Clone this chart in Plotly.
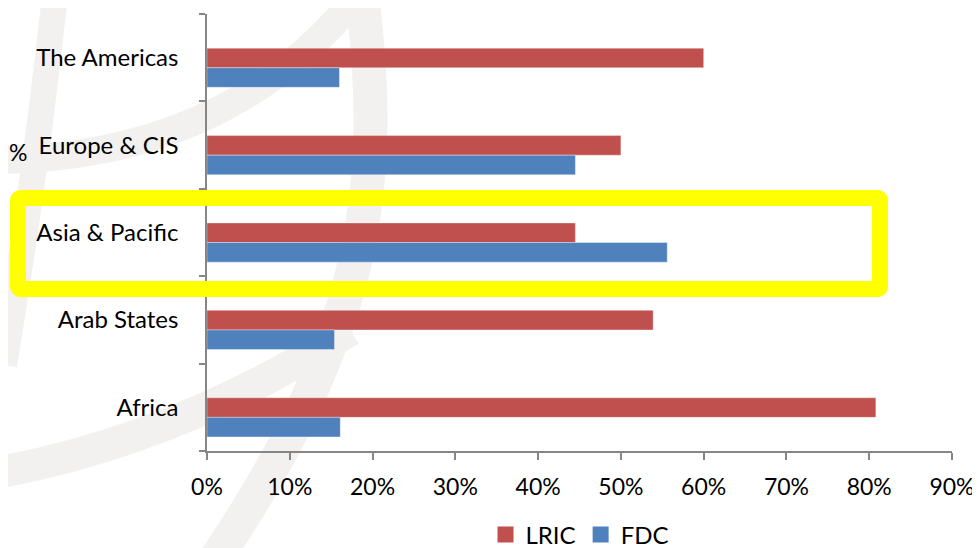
import plotly.graph_objects as go

# ---- data ----
categories = ["Africa", "Arab States", "Asia & Pacific", "Europe & CIS", "The Americas"]
lric = [0.808, 0.539, 0.445, 0.500, 0.600]
fdc = [0.161, 0.154, 0.556, 0.445, 0.160]
series_names = ["LRIC", "FDC"]
x_tick_vals = [0, 0.1, 0.2, 0.3, 0.4, 0.5, 0.6, 0.7, 0.8, 0.9]

RED = "#C0504D"
BLUE = "#4F81BD"
FONT = "Lato"

# page body has an 8px margin: figure pixels = reference pixels - 8
OFF = 8
W, H = 980 - OFF, 548 - OFF
L, R, T, B = 207, 952, 14, 451   # plot area in reference pixels


def X(px):
    return (px - L) / (R - L)


def Y(py):
    return (B - py) / (B - T)


def P(px, py):
    return f"{X(px):.5f},{Y(py):.5f}"


fig = go.Figure()

fig.add_trace(go.Bar(
    y=categories, x=lric, orientation="h", name=series_names[0],
    marker=dict(color=RED, line=dict(color="rgba(255,255,255,0.35)", width=1)),
    width=0.224, offset=-0.115, showlegend=False,
))
fig.add_trace(go.Bar(
    y=categories, x=fdc, orientation="h", name=series_names[1],
    marker=dict(color=BLUE, line=dict(color="rgba(255,255,255,0.35)", width=1)),
    width=0.224, offset=-0.339, showlegend=False,
))
# legend proxies (larger square swatches)
for nm, col in zip(series_names, [RED, BLUE]):
    fig.add_trace(go.Scatter(
        x=[None], y=[None], mode="markers", name=nm,
        marker=dict(symbol="square", size=16, color=col),
    ))

# ---- background watermark strokes ----
WM = "#f3f1f0"
shapes = []


def band(d, w):
    shapes.append(dict(type="path", xref="paper", yref="paper", path=d,
                       line=dict(color=WM, width=w), layer="below"))


band(f"M{P(55,-5)} Q{P(35,180)} {P(4,365)}", 26)
band(f"M{P(-10,160)} Q{P(220,160)} {P(350,5)}", 28)
band(f"M{P(362,-5)} C{P(385,180)} {P(370,330)} {P(215,560)}", 34)
band(f"M{P(-10,474)} Q{P(180,440)} {P(350,330)}", 32)

# ---- yellow highlight box (rounded corners) ----
x0, x1, y0, y1, r = 18, 880, 198, 289, 3
yellow = (f"M{P(x0+r,y0)} L{P(x1-r,y0)} Q{P(x1,y0)} {P(x1,y0+r)} "
          f"L{P(x1,y1-r)} Q{P(x1,y1)} {P(x1-r,y1)} "
          f"L{P(x0+r,y1)} Q{P(x0,y1)} {P(x0,y1-r)} "
          f"L{P(x0,y0+r)} Q{P(x0,y0)} {P(x0+r,y0)} Z")
shapes.append(dict(type="path", xref="paper", yref="paper", path=yellow,
                   line=dict(color="#FFFF00", width=16), layer="above"))

fig.update_layout(
    width=W, height=H,
    margin=dict(l=L - OFF, r=W - (R - OFF), t=T - OFF, b=H - (B - OFF),
                pad=0, autoexpand=False),
    paper_bgcolor="white", plot_bgcolor="rgba(0,0,0,0)",
    barmode="overlay",
    font=dict(family=FONT, size=24, color="#000000"),
    shapes=shapes,
    xaxis=dict(
        range=[0, 0.9], tickvals=x_tick_vals, tickformat=".0%",
        showgrid=False, zeroline=False,
        showline=True, linecolor="#868686", linewidth=1.5,
        ticks="outside", ticklen=7, tickwidth=1.5, tickcolor="#868686",
        ticklabelstandoff=8, automargin=False,
        tickfont=dict(family=FONT, size=23, color="#000000"),
    ),
    yaxis=dict(
        type="category", categoryorder="array", categoryarray=categories,
        range=[-0.5, 4.5], tickson="boundaries",
        showgrid=False, zeroline=False,
        showline=True, linecolor="#868686", linewidth=1.5,
        ticks="outside", ticklen=6, tickwidth=1.5, tickcolor="#868686",
        ticklabelstandoff=22, automargin=False,
        tickfont=dict(family=FONT, size=24, color="#000000"),
    ),
    legend=dict(
        orientation="h", x=0.5, xanchor="center", y=Y(535), yanchor="middle",
        font=dict(family=FONT, size=24, color="#000000"),
        bgcolor="rgba(0,0,0,0)", traceorder="normal",
    ),
    annotations=[dict(
        text="%", xref="paper", yref="paper", x=X(7), y=Y(152),
        xanchor="left", yanchor="middle", showarrow=False,
        font=dict(family=FONT, size=23, color="#000000"),
    )],
)

fig.write_html("out.html")
